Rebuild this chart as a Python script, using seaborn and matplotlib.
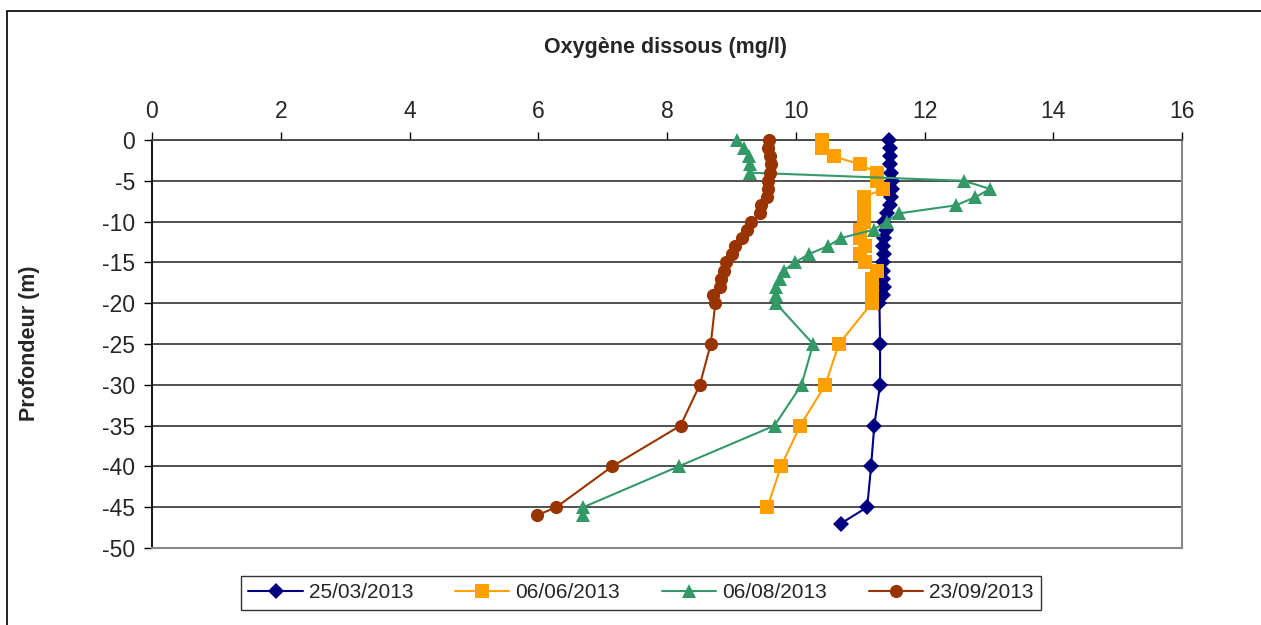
import matplotlib
matplotlib.use("Agg")
import matplotlib.pyplot as plt
import seaborn as sns
from matplotlib.patches import Rectangle

# depths (m) and dissolved oxygen (mg/l) per campaign
depth_top = [0, -1, -2, -3, -4, -5, -6, -7, -8, -9, -10,
             -11, -12, -13, -14, -15, -16, -17, -18, -19, -20]

depth_mar = depth_top + [-25, -30, -35, -40, -45, -47]
oxy_mar = [11.45, 11.47, 11.47, 11.47, 11.48, 11.50, 11.50, 11.48, 11.47, 11.42, 11.37,
           11.40, 11.37, 11.36, 11.37, 11.36, 11.35, 11.35, 11.37, 11.36, 11.30,
           11.31, 11.31, 11.22, 11.17, 11.11, 10.70]

depth_jun = depth_top + [-25, -30, -35, -40, -45]
oxy_jun = [10.40, 10.40, 10.59, 11.00, 11.26, 11.26, 11.36, 11.06, 11.06, 11.06, 11.06,
           11.00, 11.00, 11.08, 11.00, 11.08, 11.26, 11.18, 11.18, 11.18, 11.18,
           10.67, 10.46, 10.07, 9.77, 9.56]

depth_aug = depth_top + [-25, -30, -35, -40, -45, -46]
oxy_aug = [9.08, 9.19, 9.28, 9.29, 9.29, 12.61, 13.02, 12.79, 12.49, 11.60, 11.41,
           11.21, 10.71, 10.50, 10.20, 9.99, 9.81, 9.75, 9.70, 9.70, 9.69,
           10.27, 10.09, 9.67, 8.18, 6.70, 6.70]

depth_sep = depth_top + [-25, -30, -35, -40, -45, -46]
oxy_sep = [9.58, 9.57, 9.60, 9.61, 9.60, 9.57, 9.57, 9.55, 9.46, 9.44, 9.31,
           9.25, 9.16, 9.06, 9.01, 8.92, 8.88, 8.84, 8.82, 8.72, 8.75,
           8.68, 8.51, 8.21, 7.15, 6.28, 5.98]

labels = ["25/03/2013", "06/06/2013", "06/08/2013", "23/09/2013"]

sns.set_style("white")
plt.rcParams['font.family'] = ['Liberation Sans', 'DejaVu Sans']
plt.rcParams['axes.unicode_minus'] = False

fig = plt.figure(figsize=(12.61, 6.25), dpi=100)
ax = fig.add_axes([152 / 1261, 1 - 548 / 625, 1030 / 1261, 408 / 625])

series = [
    (oxy_mar, depth_mar, "#000080", "D", 8.5),
    (oxy_jun, depth_jun, "#FFA000", "s", 9.5),
    (oxy_aug, depth_aug, "#339966", "^", 10.5),
    (oxy_sep, depth_sep, "#993300", "o", 9.5),
]
for (x, y, col, mk, ms), lab in zip(series, labels):
    sns.lineplot(x=x, y=y, ax=ax, sort=False, estimator=None, color=col,
                 marker=mk, markersize=ms, markeredgewidth=0, linewidth=1.5,
                 label=lab, clip_on=False, zorder=3)

ax.set_xlim(0, 16)
ax.set_ylim(-50, 0)
ax.set_xticks(range(0, 17, 2))
ax.set_yticks(range(0, -51, -5))
ax.xaxis.tick_top()
ax.tick_params(axis='both', labelsize=16.5, length=6, width=1, color='black',
               direction='out', pad=6)
ax.tick_params(axis='x', top=True, bottom=False)
ax.tick_params(axis='y', left=True)
ax.yaxis.grid(True, color='#333333', linewidth=1.2)
ax.xaxis.grid(False)
ax.set_axisbelow(True)
ax.spines['left'].set_color('black')
ax.spines['left'].set_linewidth(1.3)
ax.spines['top'].set_color('#444444')
ax.spines['top'].set_linewidth(1.3)
for s in ['right', 'bottom']:
    ax.spines[s].set_color('#888888')
    ax.spines[s].set_linewidth(1.5)
ax.set_xlabel("")
ax.set_ylabel("")

fig.text(666 / 1261, 1 - 47 / 625, "Oxygène dissous (mg/l)", ha='center',
         va='center', fontsize=15.5, fontweight='bold')
fig.text(30 / 1261, 1 - 343 / 625, "Profondeur (m)", ha='center', va='center',
         rotation=90, fontsize=15.5, fontweight='bold')

leg = ax.legend(loc='center', bbox_to_anchor=(641 / 1261, 1 - 593 / 625),
                bbox_transform=fig.transFigure, ncol=4, fontsize=15,
                frameon=True, fancybox=False, edgecolor='black',
                handlelength=2.6, columnspacing=2.0, handletextpad=0.3,
                borderpad=0.35, borderaxespad=0)
leg.get_frame().set_linewidth(1.0)

fig.patches.append(Rectangle((7 / 1261, -0.05), 1.2, 1 - 11 / 625 + 0.05,
                             transform=fig.transFigure, fill=False,
                             edgecolor='black', linewidth=1.2))

fig.savefig("out.png", dpi=100)
